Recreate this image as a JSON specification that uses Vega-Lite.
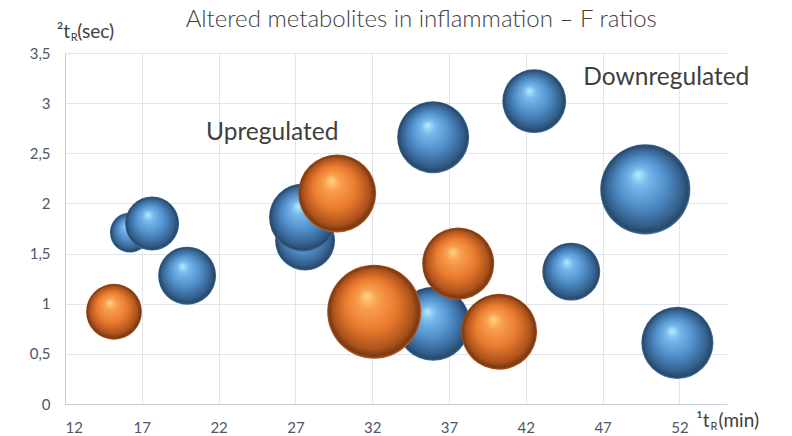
{
  "$schema": "https://vega.github.io/schema/vega-lite/v6.json",
  "autosize": "none",
  "width": 662,
  "height": 351,
  "padding": {"left": 65, "top": 53, "right": 65, "bottom": 32},
  "background": "white",
  "config": {"view": {"stroke": null}},
  "encoding": {
    "x": {
      "field": "t1",
      "type": "quantitative",
      "scale": {"domain": [12, 55.1], "nice": false, "zero": false},
      "axis": {
        "values": [12, 17, 22, 27, 32, 37, 42, 47, 52],
        "title": null,
        "grid": true,
        "gridColor": "#e1e5ee",
        "domainColor": "#c5ccd9",
        "ticks": false,
        "labelFont": "Lato",
        "labelFontSize": 15,
        "labelColor": "#4d5666",
        "labelPadding": 16
      }
    },
    "y": {
      "field": "t2",
      "type": "quantitative",
      "scale": {"domain": [0, 3.5], "nice": false},
      "axis": {
        "values": [0, 0.5, 1, 1.5, 2, 2.5, 3, 3.5],
        "labelExpr": "replace(toString(datum.value), '.', ',')",
        "title": null,
        "grid": true,
        "gridColor": "#e1e5ee",
        "domainColor": "#c5ccd9",
        "ticks": false,
        "labelFont": "Lato",
        "labelFontSize": 15,
        "labelColor": "#4d5666",
        "labelPadding": 15
      }
    }
  },
  "layer": [
    {
      "data": {"values": [
        {"t1": 16.23, "t2": 1.71, "F": 4.0},
        {"t1": 17.67, "t2": 1.80, "F": 7.3},
        {"t1": 19.95, "t2": 1.28, "F": 8.4},
        {"t1": 27.63, "t2": 1.63, "F": 9.0},
        {"t1": 27.5, "t2": 1.86, "F": 11.6},
        {"t1": 35.97, "t2": 0.80, "F": 13.7},
        {"t1": 35.97, "t2": 2.66, "F": 13.0},
        {"t1": 42.55, "t2": 3.02, "F": 10.2},
        {"t1": 44.96, "t2": 1.32, "F": 8.4},
        {"t1": 49.78, "t2": 2.14, "F": 20.3},
        {"t1": 51.87, "t2": 0.61, "F": 13.0}
      ]},
      "mark": {
        "type": "point",
        "shape": "circle",
        "filled": true,
        "opacity": 1,
        "strokeWidth": 0,
        "fill": {
          "gradient": "radial",
          "x1": 0.42, "y1": 0.33, "r1": 0,
          "x2": 0.5, "y2": 0.5, "r2": 0.5,
          "stops": [
            {"offset": 0, "color": "#b8ebff"},
            {"offset": 0.2, "color": "#78b8ec"},
            {"offset": 0.55, "color": "#4f8dc8"},
            {"offset": 0.85, "color": "#345f8c"},
            {"offset": 0.96, "color": "#264868"},
            {"offset": 1, "color": "#4577a8"}
          ]
        }
      },
      "encoding": {
        "size": {"field": "F", "type": "quantitative", "scale": {"domain": [0, 25], "range": [0, 10000]}, "legend": null}
      }
    },
    {
      "data": {"values": [
        {"t1": 15.19, "t2": 0.92, "F": 7.8},
        {"t1": 29.72, "t2": 2.10, "F": 15.2},
        {"t1": 32.13, "t2": 0.92, "F": 22.1},
        {"t1": 37.6, "t2": 1.40, "F": 13.0},
        {"t1": 40.27, "t2": 0.72, "F": 14.4}
      ]},
      "mark": {
        "type": "point",
        "shape": "circle",
        "filled": true,
        "opacity": 1,
        "strokeWidth": 0,
        "fill": {
          "gradient": "radial",
          "x1": 0.42, "y1": 0.33, "r1": 0,
          "x2": 0.5, "y2": 0.5, "r2": 0.5,
          "stops": [
            {"offset": 0, "color": "#ffd684"},
            {"offset": 0.2, "color": "#f9a050"},
            {"offset": 0.55, "color": "#e97a2e"},
            {"offset": 0.85, "color": "#ad521c"},
            {"offset": 0.96, "color": "#773812"},
            {"offset": 1, "color": "#c06024"}
          ]
        }
      },
      "encoding": {
        "size": {"field": "F", "type": "quantitative", "scale": {"domain": [0, 25], "range": [0, 10000]}, "legend": null}
      }
    },
    {
      "data": {"values": [
        {"t1": 35.19, "t2": 3.755, "label": "Altered metabolites in inflammation – F ratios"}
      ]},
      "mark": {"type": "text", "font": "Lato", "fontSize": 24, "fontWeight": 300, "color": "#404040", "align": "center", "baseline": "alphabetic"},
      "encoding": {"text": {"field": "label"}}
    },
    {
      "data": {"values": [
        {"t1": 25.49, "t2": 2.70, "label": "Upregulated"},
        {"t1": 51.15, "t2": 3.25, "label": "Downregulated"}
      ]},
      "mark": {"type": "text", "font": "Lato", "fontSize": 24.5, "fontWeight": 400, "color": "#404040", "align": "center", "baseline": "middle"},
      "encoding": {"text": {"field": "label"}}
    },
    {
      "data": {"values": [
        {"t1": 11.48, "t2": 3.65, "label": "²t"},
        {"t1": 12.8, "t2": 3.65, "label": "(sec)"},
        {"t1": 53.1, "t2": -0.23, "label": "¹t"},
        {"t1": 54.55, "t2": -0.23, "label": "(min)"}
      ]},
      "mark": {"type": "text", "font": "Lato", "fontSize": 19, "color": "#404040", "align": "left", "baseline": "alphabetic"},
      "encoding": {"text": {"field": "label"}}
    },
    {
      "data": {"values": [
        {"t1": 12.37, "t2": 3.62, "label": "R"},
        {"t1": 54.03, "t2": -0.26, "label": "R"}
      ]},
      "mark": {"type": "text", "font": "Lato", "fontSize": 11, "color": "#404040", "align": "left", "baseline": "alphabetic"},
      "encoding": {"text": {"field": "label"}}
    }
  ]
}
